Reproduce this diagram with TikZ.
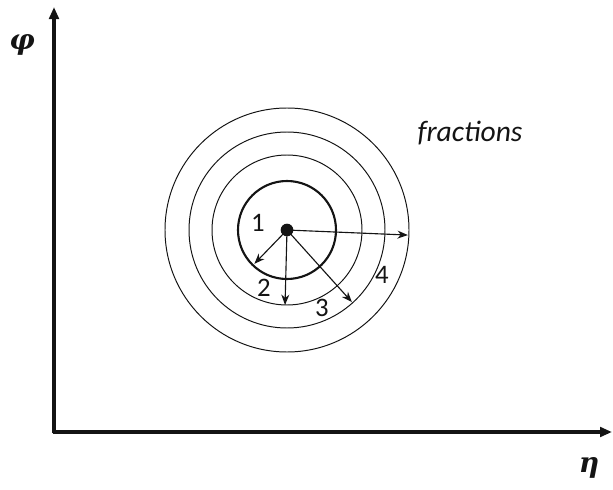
\documentclass[tikz,border=0pt]{standalone}
\usepackage{amsmath,amssymb}
\usepackage{fontspec}
\setsansfont{Carlito}
\newfontfamily\grkfont{DejaVu Serif}
\usetikzlibrary{arrows.meta,positioning,calc}
\definecolor{ink}{RGB}{20,20,20}
\tikzset{
  axis/.style={draw=ink,line width=2.2pt,-{Triangle[length=3mm,width=2.4mm]}},
  ring/.style={draw=ink,line width=0.7pt},
  core/.style={draw=ink,line width=1.5pt},
  arr/.style={draw=ink,line width=0.8pt,-{Stealth[length=2.6mm,width=2mm]}},
  num/.style={font=\sffamily\fontsize{19}{19}\selectfont,text=ink,inner sep=0pt},
  sym/.style={font=\grkfont\bfseries\itshape\fontsize{20}{20}\selectfont,text=ink,inner sep=0pt},
}

\begin{document}
\begin{tikzpicture}[x=0.025cm,y=0.025cm]
  \useasboundingbox (0,0) rectangle (613,489);
  % axes
  \coordinate (o) at (54,57);
  \coordinate (ytip) at (54,482);
  \coordinate (xtip) at (612,57);
  \draw[axis] ([yshift=-1pt]o) -- (ytip);
  \draw[axis] ([xshift=-1pt]o) -- (xtip);
  \node[sym] (phi) at (22,444) {φ};
  \node[sym] (eta) at (589,21) {η};
  % rings
  \node[circle,fill=ink,inner sep=0pt,minimum size=9pt] (c) at (287,259) {};
  \draw[core] (c.center) circle[radius=49];
  \foreach \r in {75,98,122}
    \draw[ring] (c.center) circle[radius=\r];
  \coordinate (e1) at ($(c.center)+(226:47)$);
  \coordinate (e2) at ($(c.center)+(268.5:75)$);
  \coordinate (e3) at ($(c.center)+(312:97)$);
  \coordinate (e4) at ($(c.center)+(357.6:121)$);
  \foreach \e in {e1,e2,e3,e4}
    \draw[arr] (c.center) -- (\e);
  \node[num] (n1) at (258,266) {1};
  \node[num] (n2) at (264,201) {2};
  \node[num] (n3) at (322,181) {3};
  \node[num] (n4) at (382,214) {4};
  \node[num,font=\sffamily\itshape\fontsize{21}{21}\selectfont] (frac) at (470,356) {fractions};
\end{tikzpicture}
\end{document}
